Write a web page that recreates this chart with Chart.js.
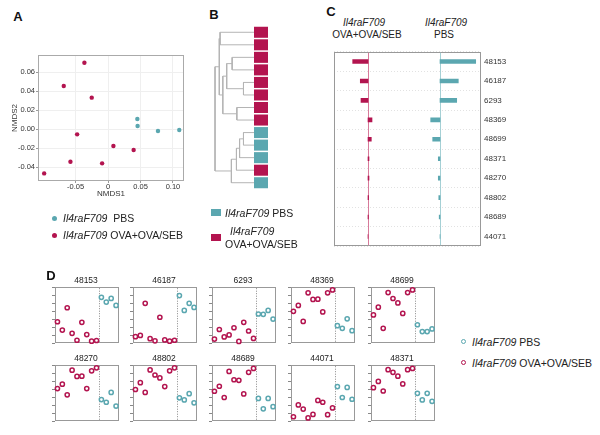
<!DOCTYPE html>
<html><head><meta charset="utf-8">
<script src="https://cdn.jsdelivr.net/npm/chart.js@4.4.1/dist/chart.umd.min.js"></script>
<style>
body{margin:0;width:600px;height:435px;position:relative;background:#fff;font-family:'Liberation Sans',Arial,sans-serif;overflow:hidden;color:#222}
canvas{position:absolute}
.lab{position:absolute;font-weight:bold;font-size:13px;transform:translate(-50%,-50%);color:#111}
.t{position:absolute;white-space:nowrap;transform:translateY(-50%);font-size:10.5px;line-height:1}
.c{transform:translate(-50%,-50%);font-size:10px}
.dot{position:absolute;width:5px;height:5px;border-radius:50%}
.ring{position:absolute;width:3px;height:3px;border-radius:50%;border:1.5px solid}
.sq{position:absolute;width:10px;height:7px}
</style></head><body>
<script>
// ---------------- DATA ----------------
const RED = '#B3144F', TEAL = '#5BA7B0';
const groupNames = ['Il4raF709 PBS', 'Il4raF709 OVA+OVA/SEB'];

// Panel A: NMDS ordination
const nmds1Ova = [-0.0365, -0.0683, -0.0252, -0.0477, 0.0082, 0.0394, -0.058, -0.0092, -0.0985];
const nmds2Ova = [0.0698, 0.0453, 0.033, -0.0056, -0.0179, -0.0221, -0.0344, -0.0361, -0.0467];
const nmds1Pbs = [0.0451, 0.0455, 0.0769, 0.1097];
const nmds2Pbs = [0.0105, 0.0032, -0.0021, -0.0011];
const nmds1Ticks = [-0.05, 0, 0.05, 0.10];
const nmds2Ticks = [-0.04, -0.02, 0.00, 0.02, 0.04, 0.06];

// Panel B: dendrogram (leaves top -> bottom) and merges [left, right, height]
const leafGroups = ['OVA','OVA','OVA','OVA','OVA','OVA','OVA','OVA','PBS','PBS','PBS','OVA','PBS'];
const merges = [
  [-5, -6, 0.27], [-9, -10, 0.27], [2, -11, 0.37], [-7, -8, 0.44],
  [3, -12, 0.45], [-3, -4, 0.56], [5, -13, 0.58], [6, 1, 0.70],
  [8, 4, 0.80], [-1, -2, 0.87], [10, 9, 0.89], [11, 7, 1.00]
];

// Panel C: per-taxon group effect
const taxaC = ['48153','46187','6293','48369','48699','48371','48270','48802','48689','44071'];
const effectOva = [-1.53, -0.77, -0.70, 0.40, 0.33, 0.10, 0.10, 0.06, 0.04, 0];
const effectPbs = [3.57, 1.83, 1.67, -0.93, -0.73, -0.17, -0.17, -0.12, -0.08, 0];

// Panel D: per-sample relative values for each taxon
const dTaxa = ['48153','46187','6293','48369','48699','48270','48802','48689','44071','48371'];
const ovaSamples = [1,2,3,4,5,6,7,8,9];
const pbsSamples = [10,11,12,13];
const dOva = [
  [0.386,0.238,0.635,0.18,0.058,0.376,0.159,0.042,0.053],
  [0.122,0.143,0.714,0.085,0.048,0.466,0.063,0.042,0.058],
  [0.079,0.249,0.116,0.153,0.28,0.037,0.376,0.222,0.09],
  [0.571,0.677,0.392,0.9,0.783,0.788,0.561,0.9,0.952],
  [0.508,0.646,0.27,0.905,0.799,0.72,0.534,0.905,0.952],
  [0.584,0.663,0.474,0.911,0.8,0.805,0.584,0.9,0.953],
  [0.568,0.689,0.516,0.916,0.826,0.774,0.621,0.9,0.953],
  [0.537,0.626,0.426,0.889,0.742,0.732,0.489,0.874,0.942],
  [0.084,0.295,0.221,0.063,0.126,0.374,0.342,0.121,0.242],
  [0.6,0.711,0.542,0.921,0.874,0.805,0.668,0.921,0.942]
];
const dPbs = [
  [0.82,0.735,0.80,0.677],
  [0.852,0.587,0.714,0.64],
  [0.524,0.519,0.587,0.434],
  [0.317,0.27,0.439,0.228],
  [0.333,0.212,0.212,0.259],
  [0.389,0.342,0.516,0.274],
  [0.421,0.384,0.495,0.332],
  [0.41,0.226,0.41,0.263],
  [0.621,0.426,0.605,0.395],
  [0.5,0.384,0.5,0.358]
];

// ---------------- HELPERS ----------------
const FONT = "'Liberation Sans', Arial, sans-serif";
Chart.defaults.font.family = FONT;
Chart.defaults.color = '#333';
Chart.defaults.animation = false;
Chart.defaults.events = [];
Chart.defaults.plugins.legend.display = false;
Chart.defaults.plugins.tooltip.enabled = false;

const framePlugin = {
  id: 'frame',
  beforeDatasetsDraw(chart, args, opts) {
    if (!opts || !opts.color) return;
    const a = chart.chartArea, ctx = chart.ctx;
    ctx.save();
    ctx.strokeStyle = opts.color; ctx.lineWidth = 1;
    ctx.strokeRect(Math.round(a.left) + 0.5, Math.round(a.top) + 0.5,
                   Math.round(a.right - a.left) - 1, Math.round(a.bottom - a.top) - 1);
    ctx.restore();
  }
};
const vlinePlugin = {
  id: 'vlines',
  beforeDatasetsDraw(chart, args, opts) {
    if (!opts || !opts.lines) return;
    const a = chart.chartArea, ctx = chart.ctx, xs = chart.scales.x;
    ctx.save();
    opts.lines.forEach(l => {
      const px = Math.round(xs.getPixelForValue(l.value)) + 0.5;
      ctx.strokeStyle = l.color; ctx.lineWidth = l.width || 1;
      ctx.setLineDash(l.dash || []);
      ctx.beginPath(); ctx.moveTo(px, a.top + 1); ctx.lineTo(px, a.bottom - 1); ctx.stroke();
    });
    ctx.restore();
  }
};
Chart.register(framePlugin, vlinePlugin);

function mk(left, top, w, h) {
  const c = document.createElement('canvas');
  c.width = w; c.height = h;
  c.style.left = left + 'px'; c.style.top = top + 'px';
  c.style.width = w + 'px'; c.style.height = h + 'px';
  document.body.appendChild(c);
  return c;
}
function html(s) { document.body.insertAdjacentHTML('beforeend', s); }

// ---------------- PANEL A ----------------
new Chart(mk(0, 45, 190, 153), {
  type: 'scatter',
  data: { datasets: [
    { data: nmds1Ova.map((x, i) => ({ x, y: nmds2Ova[i] })), backgroundColor: RED, borderWidth: 0, pointRadius: 2.2 },
    { data: nmds1Pbs.map((x, i) => ({ x, y: nmds2Pbs[i] })), backgroundColor: TEAL, borderWidth: 0, pointRadius: 2.2 }
  ]},
  options: {
    responsive: false,
    layout: { padding: { top: 10, right: 6, left: 0, bottom: 0 } },
    plugins: { frame: { color: '#aaa' } },
    scales: {
      x: {
        type: 'linear', min: -0.108, max: 0.117,
        afterBuildTicks: s => { s.ticks = nmds1Ticks.map(v => ({ value: v })); },
        afterFit: s => { s.height = 17; },
        grid: { color: '#efefef', tickLength: 2, tickColor: '#999' },
        border: { display: false },
        ticks: { font: { size: 7.5, lineHeight: 1 }, padding: 0, maxRotation: 0, color: '#333',
                 callback: v => v === 0 ? '0' : Number(v).toFixed(2) },
        title: { display: true, text: 'NMDS1', font: { size: 8, lineHeight: 1 }, padding: 0, color: '#333' }
      },
      y: {
        type: 'linear', min: -0.0547, max: 0.0779,
        afterBuildTicks: s => { s.ticks = nmds2Ticks.map(v => ({ value: v })); },
        afterFit: s => { s.width = 38; },
        grid: { color: '#efefef', tickLength: 2, tickColor: '#999' },
        border: { display: false },
        ticks: { font: { size: 7.5 }, padding: 1, color: '#333', callback: v => Number(v).toFixed(2) },
        title: { display: true, text: 'NMDS2', font: { size: 8, lineHeight: 1 }, padding: { top: 11, bottom: 0 }, color: '#333' }
      }
    }
  }
});

// ---------------- PANEL B ----------------
(function () {
  const nodes = [];
  const pos = id => id < 0 ? { y: -id, h: 0 } : nodes[id - 1];
  const sets = [];
  merges.forEach(([l, r, h]) => {
    const L = pos(l), R = pos(r);
    nodes.push({ y: (L.y + R.y) / 2, h });
    sets.push({
      data: [{ x: L.h, y: L.y }, { x: h, y: L.y }, { x: h, y: R.y }, { x: R.h, y: R.y }],
      showLine: true, borderColor: '#b4b4b4', borderWidth: 1, pointRadius: 0, clip: false
    });
  });
  new Chart(mk(211, 26, 43, 163), {
    type: 'scatter',
    data: { datasets: sets },
    options: {
      responsive: false,
      layout: { padding: { left: 4, right: 0, top: 0, bottom: 0 } },
      scales: {
        x: { type: 'linear', display: false, reverse: true, min: 0, max: 1 },
        y: { type: 'linear', display: false, reverse: true, min: 0.5, max: 13.5 }
      }
    }
  });
  new Chart(mk(254, 26, 14, 163), {
    type: 'bar',
    data: { labels: leafGroups.map((g, i) => String(i + 1)),
      datasets: [{ data: leafGroups.map(() => [0, 1]),
        backgroundColor: leafGroups.map(g => g === 'PBS' ? TEAL : RED),
        borderWidth: 0, categoryPercentage: 1, barPercentage: 0.88 }] },
    options: {
      responsive: false, indexAxis: 'y',
      scales: { x: { display: false, min: 0, max: 1 }, y: { display: false } }
    }
  });
})();

// ---------------- PANEL C ----------------
const TEAL_BASE = 7.2;
new Chart(mk(334, 44, 187, 210), {
  type: 'bar',
  data: { labels: taxaC, datasets: [
    { data: effectOva.map(v => [0, v]), backgroundColor: RED, grouped: false, barThickness: 4, borderWidth: 0 },
    { data: effectPbs.map(v => [TEAL_BASE, TEAL_BASE + v]), backgroundColor: TEAL, grouped: false, barThickness: 4, borderWidth: 0 }
  ]},
  options: {
    responsive: false, indexAxis: 'y',
    plugins: {
      frame: { color: '#999' },
      vlines: { lines: [{ value: 0, color: '#d77a9a' }, { value: TEAL_BASE, color: '#a5d0d5' }] }
    },
    scales: {
      x: { type: 'linear', display: false, min: -3.4, max: 11.3 },
      y: {
        position: 'right',
        afterFit: s => { s.width = 40; },
        grid: { color: '#e2e2e2', drawTicks: false },
        border: { display: false, dash: [1, 2] },
        ticks: { font: { size: 8 }, padding: 3, color: '#333' }
      }
    }
  }
});

// ---------------- PANEL D ----------------
const dLefts = [55, 133, 212, 291, 371];
const dTops = [287, 365];
const splitAt = (ovaSamples[ovaSamples.length - 1] + pbsSamples[0]) / 2;
dTaxa.forEach((taxon, k) => {
  const L = dLefts[k % 5], T = dTops[Math.floor(k / 5)];
  new Chart(mk(L - 7, T - 12, 69 + 7, 62 + 12), {
    type: 'scatter',
    data: { datasets: [
      { data: dOva[k].map((v, i) => ({ x: ovaSamples[i], y: v })), borderColor: RED, backgroundColor: '#fff',
        pointRadius: 2.1, borderWidth: 1.5, clip: false },
      { data: dPbs[k].map((v, i) => ({ x: pbsSamples[i], y: v })), borderColor: TEAL, backgroundColor: '#fff',
        pointRadius: 2.1, borderWidth: 1.5, clip: false }
    ]},
    options: {
      responsive: false,
      layout: { padding: 0 },
      plugins: {
        title: { display: true, text: taxon, font: { size: 8.5, weight: 'normal', lineHeight: 1.2 },
                 padding: { top: 1, bottom: 1 }, color: '#222' },
        frame: { color: '#999' },
        vlines: { lines: [{ value: splitAt, color: '#888', dash: [1, 1.5] }] }
      },
      scales: {
        x: { type: 'linear', display: false, min: 0.5, max: 13.5 },
        y: {
          type: 'linear', min: 0, max: 1,
          afterFit: s => { s.width = 7; },
          ticks: { display: false, count: 8 },
          grid: { drawOnChartArea: false, tickLength: 3, tickColor: '#888' },
          border: { display: false }
        }
      }
    }
  });
});

// ---------------- TEXT / LEGENDS ----------------
html(`
<div class="lab" style="left:18px;top:16px">A</div>
<div class="lab" style="left:214px;top:14px">B</div>
<div class="lab" style="left:331px;top:11px">C</div>
<div class="lab" style="left:51px;top:275px">D</div>

<span class="dot" style="left:52px;top:215.5px;background:${TEAL}"></span>
<div class="t" style="left:63px;top:218px"><i>Il4raF709</i>&nbsp; PBS</div>
<span class="dot" style="left:52px;top:232.5px;background:${RED}"></span>
<div class="t" style="left:63px;top:235px"><i>Il4raF709</i> OVA+OVA/SEB</div>

<span class="sq" style="left:211px;top:209px;background:${TEAL}"></span>
<div class="t" style="left:225px;top:212.5px"><i>Il4raF709</i> PBS</div>
<span class="sq" style="left:211px;top:234px;background:${RED}"></span>
<div class="t" style="left:230px;top:231px"><i>Il4raF709</i></div>
<div class="t" style="left:225px;top:244px">OVA+OVA/SEB</div>

<div class="t c" style="left:364px;top:23px"><i>Il4raF709</i></div>
<div class="t c" style="left:367px;top:35px">OVA+OVA/SEB</div>
<div class="t c" style="left:446px;top:23px"><i>Il4raF709</i></div>
<div class="t c" style="left:444px;top:35px">PBS</div>

<span class="ring" style="left:461px;top:339px;border-color:${TEAL}"></span>
<div class="t" style="left:472px;top:342px"><i>Il4raF709</i> PBS</div>
<span class="ring" style="left:461px;top:360px;border-color:${RED}"></span>
<div class="t" style="left:472px;top:363px"><i>Il4raF709</i> OVA+OVA/SEB</div>
`);
</script>
</body></html>
